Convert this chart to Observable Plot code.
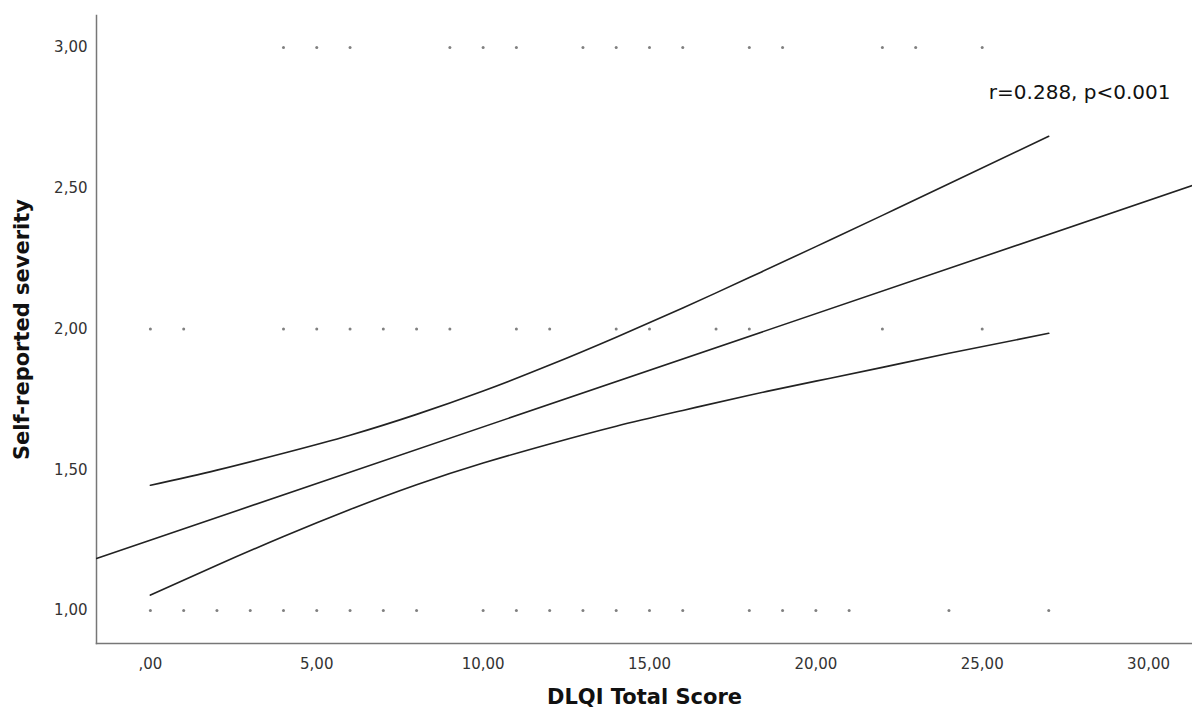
<!DOCTYPE html>
<html>
<head>
<meta charset="utf-8">
<script src="https://cdn.jsdelivr.net/npm/d3@7"></script>
<script src="https://cdn.jsdelivr.net/npm/@observablehq/plot@0.6"></script>
<style>
  html, body { margin: 0; padding: 0; background: #fff; }
  #chart svg { display: block; }
</style>
</head>
<body>
<div id="chart"></div>
<script>
// Observed DLQI scores at each self-reported severity level
const dlqiAtSeverity3 = [4, 5, 6, 9, 10, 11, 13, 14, 15, 16, 18, 19, 22, 23, 25];
const dlqiAtSeverity2 = [0, 1, 4, 5, 6, 7, 8, 9, 11, 12, 14, 15, 17, 18, 22, 25];
const dlqiAtSeverity1 = [0, 1, 2, 3, 4, 5, 6, 7, 8, 10, 11, 12, 13, 14, 15, 16, 18, 19, 20, 21, 24, 27];

// Linear fit line (read at the plot edges)
const fitX = [-1.62, 31.32];
const fitY = [1.185, 2.51];

// Confidence band curves
const ciX     = [0, 2, 4, 6, 8, 10, 12, 14, 16, 18, 20, 22, 24, 27];
const ciUpper = [1.445, 1.499, 1.559, 1.623, 1.697, 1.780, 1.872, 1.971, 2.075, 2.183, 2.293, 2.404, 2.516, 2.685];
const ciLower = [1.055, 1.161, 1.263, 1.359, 1.447, 1.524, 1.592, 1.655, 1.711, 1.765, 1.815, 1.864, 1.914, 1.985];

const xTicks = [0, 5, 10, 15, 20, 25, 30];
const yTicks = [1, 1.5, 2, 2.5, 3];
const annotation = "r=0.288, p<0.001";

const points = [
  ...dlqiAtSeverity3.map(x => ({x, y: 3})),
  ...dlqiAtSeverity2.map(x => ({x, y: 2})),
  ...dlqiAtSeverity1.map(x => ({x, y: 1}))
];
const fit = fitX.map((x, i) => ({x, y: fitY[i]}));
const upper = ciX.map((x, i) => ({x, y: ciUpper[i]}));
const lower = ciX.map((x, i) => ({x, y: ciLower[i]}));

const fmt = v => {
  const s = v.toFixed(2).replace(".", ",");
  return s.startsWith("0,") ? s.slice(1) : s;
};

const font = "'DejaVu Sans', 'Open Sans', sans-serif";

const chart = Plot.plot({
  width: 1192,
  height: 711,
  marginTop: 15,
  marginBottom: 68,
  marginLeft: 96,
  marginRight: 0,
  style: { fontFamily: font, background: "#fff" },
  x: { domain: [-1.62, 31.32], ticks: xTicks },
  y: { domain: [0.883, 3.114], ticks: yTicks },
  marks: [
    Plot.axisX({
      ticks: xTicks, tickFormat: fmt, tickSize: 0, tickPadding: 15,
      fontSize: 15, fill: "#333", label: null
    }),
    Plot.axisY({
      ticks: yTicks, tickFormat: fmt, tickSize: 0, tickPadding: 9,
      fontSize: 15, fill: "#333", label: null
    }),
    Plot.frame({ anchor: "left", stroke: "#777", strokeWidth: 1.5 }),
    Plot.frame({ anchor: "bottom", stroke: "#777", strokeWidth: 1.5 }),
    Plot.dot(points, { x: "x", y: "y", r: 1.5, fill: "#808080", stroke: "none" }),
    Plot.line(fit, { x: "x", y: "y", stroke: "#222", strokeWidth: 1.6, clip: true }),
    Plot.line(upper, { x: "x", y: "y", stroke: "#222", strokeWidth: 1.6, curve: "natural" }),
    Plot.line(lower, { x: "x", y: "y", stroke: "#222", strokeWidth: 1.6, curve: "natural" }),
    Plot.text([annotation], {
      x: 25.2, y: 2.84, text: d => d, textAnchor: "start",
      fontSize: 20, fill: "#111"
    }),
    Plot.text(["DLQI Total Score"], {
      frameAnchor: "bottom", textAnchor: "middle", dy: 60, text: d => d,
      fontSize: 21, fontWeight: "bold", fill: "#111"
    }),
    Plot.text(["Self-reported severity"], {
      frameAnchor: "left", textAnchor: "middle", dx: -74, rotate: -90, text: d => d,
      fontSize: 21, fontWeight: "bold", fill: "#111"
    })
  ]
});

document.getElementById("chart").appendChild(chart);
</script>
</body>
</html>
